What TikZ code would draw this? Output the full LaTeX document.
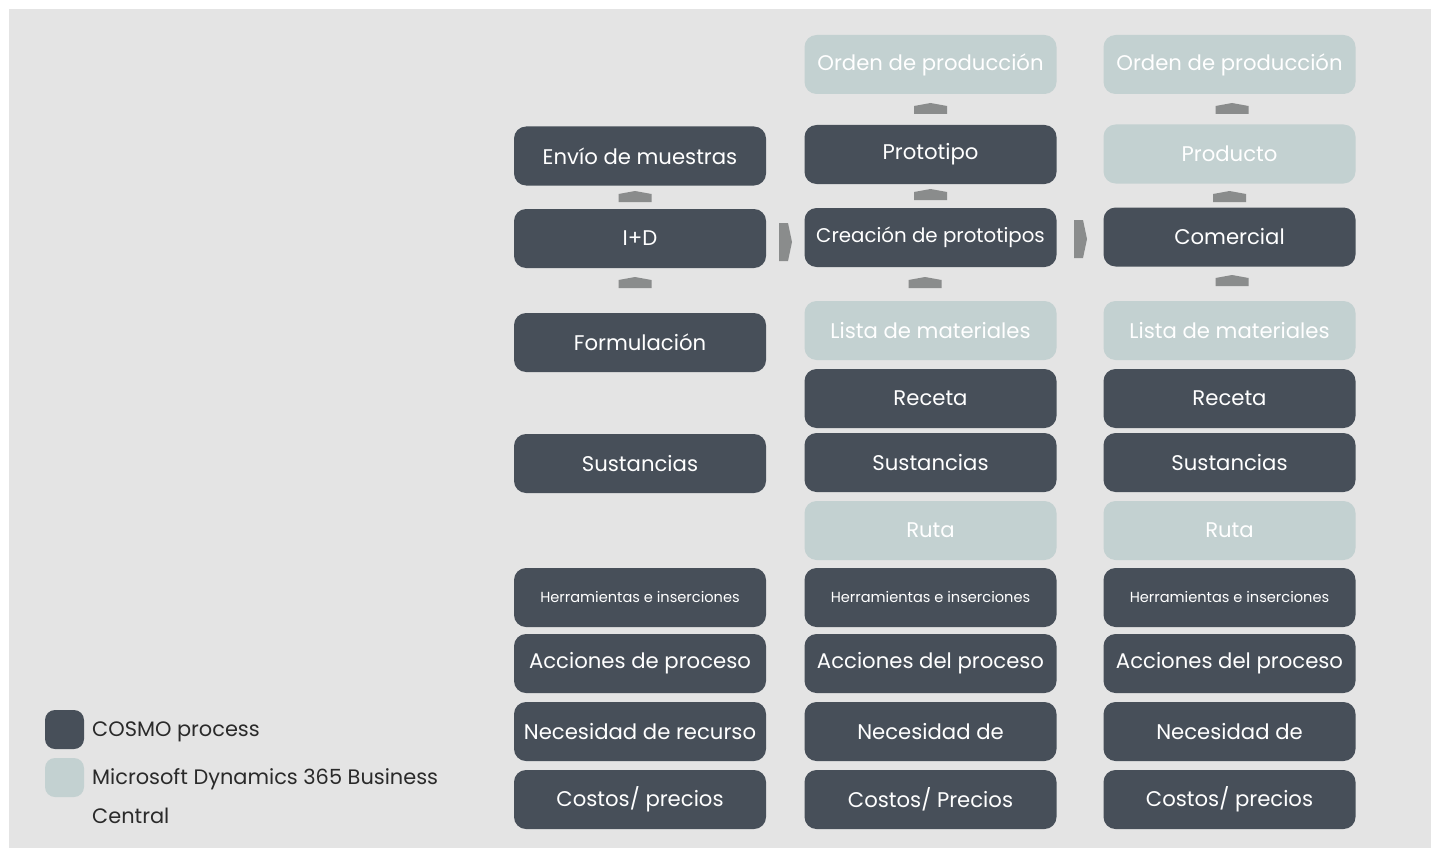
\documentclass[tikz,border=0pt]{standalone}
\usepackage{fontspec}
\setmainfont{Poppins}
\usepackage{tikz}
\usepackage{xcolor}
\definecolor{cosmo}{HTML}{474F59}
\definecolor{dynamics}{HTML}{C3D1D1}
\definecolor{panel}{HTML}{E4E4E4}
\definecolor{chevron}{HTML}{8A8C8C}
\definecolor{legendtext}{HTML}{2A2A2A}
\tikzset{
  cosmobox/.style={fill=cosmo, text=white, rounded corners=12pt, minimum width=252pt, minimum height=59pt, inner sep=0pt, font=\fontsize{21.2}{25}\selectfont},
  dynbox/.style={cosmobox, fill=dynamics},
  smallbox/.style={cosmobox, font=\fontsize{14.6}{17}\selectfont},
  legendbox/.style={rounded corners=10pt, minimum width=39pt, minimum height=39pt, inner sep=0pt},
  legendlabel/.style={anchor=west, text=legendtext, inner sep=0pt, font=\fontsize{20.9}{25}\selectfont}
}
\newcommand{\uparr}[2]{\fill[chevron] (#1-16.5,#2+11) -- (#1-16.5,#2+3) -- (#1,#2) -- (#1+16.5,#2+3) -- (#1+16.5,#2+11) -- cycle;}
\newcommand{\rtarr}[2]{\fill[chevron] (#1,#2-19) -- (#1+9,#2-19) -- (#1+13,#2) -- (#1+9,#2+19) -- (#1,#2+19) -- cycle;}

\begin{document}
\begin{tikzpicture}[x=1pt,y=-1pt]
\useasboundingbox (0,0) rectangle (1431,848);
\fill[panel] (9,9) rectangle (1431,848);

% first column: I+D
\node[cosmobox] (envio1) at (640,156) {Envío de muestras};
\node[cosmobox] (iyd1) at (640,238.5) {I+D};
\node[cosmobox] (formul1) at (640,342.5) {Formulación};
\node[cosmobox] (sust1) at (640,463.5) {Sustancias};
\node[smallbox] (herr1) at (640,597.5) {Herramientas e inserciones};
\node[cosmobox] (acc1) at (640,663.5) {Acciones de proceso};
\node[cosmobox] (nec1) at (640,731.5) {Necesidad de recurso};
\node[cosmobox] (cost1) at (640,799.5) {Costos/ precios};

% second column: prototipos
\node[dynbox] (orden2) at (930.5,64.5) {Orden de producción};
\node[cosmobox] (proto2) at (930.5,154.5) {Prototipo};
\node[cosmobox, font=\fontsize{19.8}{24}\selectfont] (crea2) at (930.5,237.5) {Creación de prototipos};
\node[dynbox] (lista2) at (930.5,330.5) {Lista de materiales};
\node[cosmobox] (receta2) at (930.5,398.5) {Receta};
\node[cosmobox] (sust2) at (930.5,462.5) {Sustancias};
\node[dynbox] (ruta2) at (930.5,530.5) {Ruta};
\node[smallbox] (herr2) at (930.5,597.5) {Herramientas e inserciones};
\node[cosmobox] (acc2) at (930.5,663.5) {Acciones del proceso};
\node[cosmobox] (nec2) at (930.5,731.5) {Necesidad de};
\node[cosmobox] (cost2) at (930.5,799.5) {Costos/ Precios};

% third column: comercial
\node[dynbox] (orden3) at (1229.5,64.5) {Orden de producción};
\node[dynbox] (prod3) at (1229.5,154) {Producto};
\node[cosmobox] (com3) at (1229.5,237) {Comercial};
\node[dynbox] (lista3) at (1229.5,330.5) {Lista de materiales};
\node[cosmobox] (receta3) at (1229.5,398.5) {Receta};
\node[cosmobox] (sust3) at (1229.5,462.5) {Sustancias};
\node[dynbox] (ruta3) at (1229.5,530.5) {Ruta};
\node[smallbox] (herr3) at (1229.5,597.5) {Herramientas e inserciones};
\node[cosmobox] (acc3) at (1229.5,663.5) {Acciones del proceso};
\node[cosmobox] (nec3) at (1229.5,731.5) {Necesidad de};
\node[cosmobox] (cost3) at (1229.5,799.5) {Costos/ precios};

% chevrons
\uparr{635}{191}
\uparr{635}{277}
\uparr{930.5}{103}
\uparr{930.5}{189}
\uparr{925}{277}
\uparr{1232}{103}
\uparr{1229.5}{191}
\uparr{1232}{275}
\rtarr{779}{242}
\rtarr{1074}{239}

% legend
\node[legendbox, fill=cosmo] (keycosmo) at (64.5,729.5) {};
\node[legendbox, fill=dynamics] (keydyn) at (64.5,777.5) {};
\node[legendlabel] (labcosmo) at (92,732) {COSMO process};
\node[legendlabel] (labdyn) at (92,779) {Microsoft Dynamics 365 Business};
\node[legendlabel] (labdyn2) at (92,815.5) {Central};
\end{tikzpicture}
\end{document}
